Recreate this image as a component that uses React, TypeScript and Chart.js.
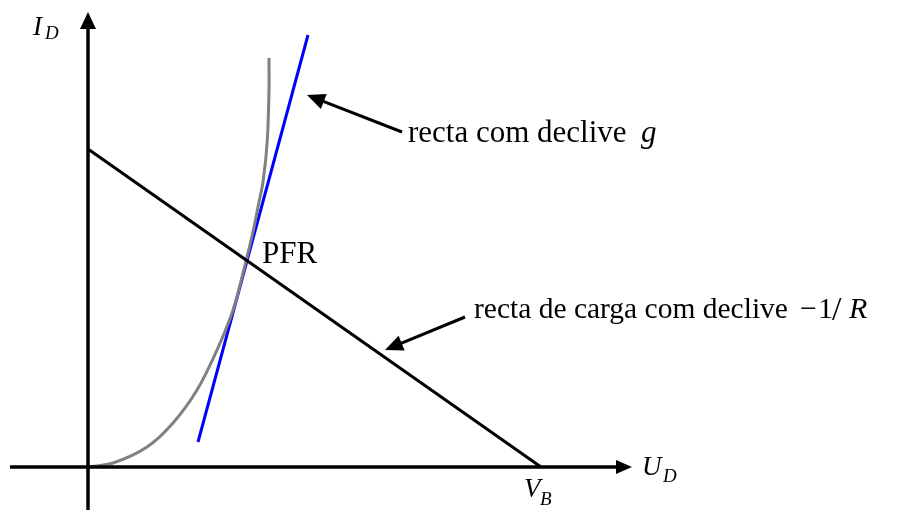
import { useEffect, useRef } from 'react';
import { Chart, registerables } from 'chart.js';

Chart.register(...registerables);

// Diode characteristic I_D(U_D)
const diodeU = [0, 0.25, 0.59, 0.85, 1.09, 1.29, 1.45, 1.59, 1.66, 1.7, 1.753, 1.793, 1.81, 1.81];
const diodeI = [0, 0.04, 0.2, 0.44, 0.77, 1.17, 1.57, 2.1, 2.4, 2.6, 2.87, 3.27, 3.77, 4.09];

// Load line from (0, V_B/R) down to (V_B, 0)
const loadU = [0, 4.53];
const loadI = [3.18, 0];

// Tangent at the operating point (slope g)
const tangentU = [1.1, 2.2];
const tangentI = [0.25, 4.32];

// Axis extents (line start, arrow base, arrow tip)
const xAxisU = [-0.78, 5.29];
const xAxisTip = 5.44;
const yAxisI = [-0.43, 4.39];
const yAxisTip = 4.55;

const VIEW_X = { min: -0.88, max: 8.1 };
const VIEW_Y = { min: -0.43, max: 4.67 };

type Piece = { text: string; x: number; y: number; size: number; italic?: boolean };

const textPieces: Piece[] = [
  { text: 'I', x: -0.55, y: 4.32, size: 27, italic: true },
  { text: 'D', x: -0.43, y: 4.28, size: 19, italic: true },
  { text: 'U', x: 5.54, y: -0.08, size: 27, italic: true },
  { text: 'D', x: 5.75, y: -0.15, size: 19, italic: true },
  { text: 'V', x: 4.36, y: -0.3, size: 27, italic: true },
  { text: 'B', x: 4.52, y: -0.38, size: 19, italic: true },
  { text: 'PFR', x: 1.74, y: 2.04, size: 31 },
  { text: 'recta com declive', x: 3.2, y: 3.25, size: 31 },
  { text: 'g', x: 5.53, y: 3.25, size: 31, italic: true },
  { text: 'recta de carga com declive', x: 3.86, y: 1.49, size: 29.5 },
  { text: '\u2212', x: 7.12, y: 1.49, size: 30 },
  { text: '1', x: 7.3, y: 1.49, size: 30 },
  { text: '/', x: 7.44, y: 1.47, size: 34 },
  { text: 'R', x: 7.61, y: 1.49, size: 30, italic: true },
];

// Annotation pointers: [tailU, tailI, tipU, tipI]
const pointers = [
  [3.14, 3.35, 2.19, 3.72],
  [3.77, 1.5, 2.97, 1.17],
];

const overlay = {
  id: 'overlay',
  afterDatasetsDraw(chart: any) {
    const { ctx } = chart;
    const sx = chart.scales.x;
    const sy = chart.scales.y;
    const px = (v: number) => sx.getPixelForValue(v);
    const py = (v: number) => sy.getPixelForValue(v);

    const head = (x0: number, y0: number, x1: number, y1: number, len: number, half: number) => {
      const a = Math.atan2(y1 - y0, x1 - x0);
      const bx = x1 - len * Math.cos(a);
      const by = y1 - len * Math.sin(a);
      ctx.beginPath();
      ctx.moveTo(x1, y1);
      ctx.lineTo(bx + half * Math.sin(a), by - half * Math.cos(a));
      ctx.lineTo(bx - half * Math.sin(a), by + half * Math.cos(a));
      ctx.closePath();
      ctx.fill();
    };

    ctx.save();
    ctx.fillStyle = '#000';
    ctx.strokeStyle = '#000';

    // axis arrowheads
    head(px(0), py(0), px(0), py(yAxisTip), 17, 8);
    head(px(0), py(0), px(xAxisTip), py(0), 16, 7);

    // annotation pointers
    ctx.lineWidth = 3;
    pointers.forEach(([u0, i0, u1, i1]) => {
      const x0 = px(u0), y0 = py(i0), x1 = px(u1), y1 = py(i1);
      const a = Math.atan2(y1 - y0, x1 - x0);
      ctx.beginPath();
      ctx.moveTo(x0, y0);
      ctx.lineTo(x1 - 12 * Math.cos(a), y1 - 12 * Math.sin(a));
      ctx.stroke();
      head(x0, y0, x1, y1, 18, 8);
    });

    // text
    ctx.textBaseline = 'alphabetic';
    ctx.textAlign = 'left';
    textPieces.forEach((p) => {
      ctx.font = `${p.italic ? 'italic ' : ''}${p.size}px "Liberation Serif", "Times New Roman", serif`;
      ctx.fillText(p.text, px(p.x), py(p.y));
    });
    ctx.restore();
  },
};

const line = (u: number[], i: number[], color: string, extra: any = {}) => ({
  data: u.map((v, k) => ({ x: v, y: i[k] })),
  borderColor: color,
  borderWidth: 3,
  pointRadius: 0,
  showLine: true,
  fill: false,
  clip: false as any,
  ...extra,
});

export default function App() {
  const ref = useRef<HTMLCanvasElement | null>(null);

  useEffect(() => {
    document.body.style.margin = '0';
    if (!ref.current) return;
    const chart = new Chart(ref.current, {
      type: 'scatter',
      data: {
        datasets: [
          line(xAxisU, [0, 0], '#000', { borderWidth: 3.5 }),
          line([0, 0], yAxisI, '#000', { borderWidth: 3.5 }),
          line(loadU, loadI, '#000'),
          line(diodeU, diodeI, '#808080', { tension: 0.35 }),
          line(tangentU, tangentI, '#0000ff'),
        ],
      },
      options: {
        responsive: false,
        animation: false,
        layout: { padding: 0 },
        plugins: { legend: { display: false }, tooltip: { enabled: false } },
        scales: {
          x: { type: 'linear', display: false, min: VIEW_X.min, max: VIEW_X.max },
          y: { type: 'linear', display: false, min: VIEW_Y.min, max: VIEW_Y.max },
        },
      },
      plugins: [overlay],
    });
    return () => chart.destroy();
  }, []);

  return (
    <div style={{ width: 898, height: 510, background: '#fff' }}>
      <canvas ref={ref} width={898} height={510} />
    </div>
  );
}
